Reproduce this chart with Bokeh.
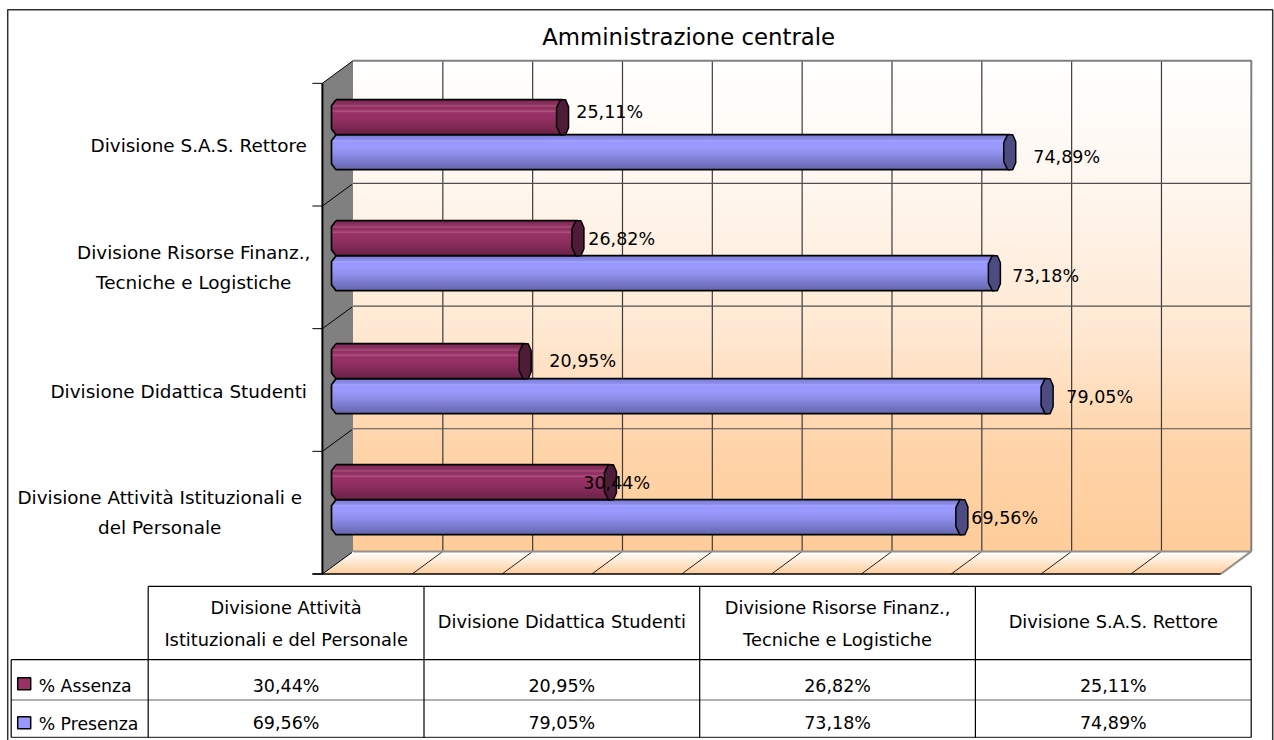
from bokeh.plotting import figure
from bokeh.models import Range1d
from bokeh.core.properties import value
from bokeh.embed import file_html
from bokeh.resources import INLINE

title = "Amministrazione centrale"
categories = ["Divisione Attività Istituzionali e del Personale", "Divisione Didattica Studenti",
              "Divisione Risorse Finanz., Tecniche e Logistiche", "Divisione S.A.S. Rettore"]
axis_labels = [["Divisione Attività Istituzionali e", "del Personale"], ["Divisione Didattica Studenti"],
               ["Divisione Risorse Finanz.,", "Tecniche e Logistiche"], ["Divisione S.A.S. Rettore"]]
header_labels = [["Divisione Attività", "Istituzionali e del Personale"], ["Divisione Didattica Studenti"],
                 ["Divisione Risorse Finanz.,", "Tecniche e Logistiche"], ["Divisione S.A.S. Rettore"]]
assenza = [30.44, 20.95, 26.82, 25.11]
presenza = [69.56, 79.05, 73.18, 74.89]
series_names = ["% Assenza", "% Presenza"]
x_ticks = list(range(0, 101, 10))

FONT = value("DejaVu Sans")
W, H = 1274, 740
X0, PX = 353.3, 8.983      # picture px of 0 %, px per 1 %
Y0, PY = 551.7, 122.67     # picture px of category 0, px per category
DX, DY = -30.6, 22.6       # depth of the 3-D box
SHIFT = 0.8


def fx(px):
    return (px - X0) / PX


def fy(py):
    return (Y0 - py) / PY


p = figure(width=W, height=H, output_backend="svg", toolbar_location=None, min_border=0,
           x_range=Range1d(fx(SHIFT), fx(W + SHIFT)), y_range=Range1d(fy(H + SHIFT), fy(SHIFT)),
           x_axis_type="linear", y_axis_type="linear")
p.axis.visible = False
p.grid.visible = False
p.outline_line_color = None
p.background_fill_color = "white"
p.border_fill_color = "white"


def mix(c1, c2, t):
    return "#%02x%02x%02x" % tuple(round(a + (b - a) * t) for a, b in zip(c1, c2))


def stops(s, t):
    for (t0, c0), (t1, c1) in zip(s, s[1:]):
        if t <= t1:
            return mix(c0, c1, (t - t0) / (t1 - t0) if t1 > t0 else 0)
    return mix(s[-1][1], s[-1][1], 0)


def line(xs, ys, color="#000000", width=1.0):
    p.line([fx(a) for a in xs], [fy(b) for b in ys], line_color=color, line_width=width)


WHITE, PEACH = (255, 255, 255), (255, 204, 153)
wall_stops = [(0, WHITE), (0.26, (255, 246, 238)), (0.55, (255, 232, 210)), (0.78, (255, 212, 170)), (1, PEACH)]

# back wall gradient (each strip overlaps the next so no seams show)
rows = list(range(61, 552, 2))
p.quad(left=fx(X0), right=fx(X0 + 898.3), top=[fy(r) for r in rows], bottom=[fy(min(r + 3, 551.7)) for r in rows],
       fill_color=[stops(wall_stops, (r - 61) / 491) for r in rows], fill_alpha=1.0, line_color=None)

# floor gradient
rows = list(range(552, 574))
p.quad(left=[fx(X0 + DX * (r - 551.7) / DY) for r in rows], right=[fx(X0 + 898.3 + DX * (r - 551.7) / DY) for r in rows],
       top=[fy(r) for r in rows], bottom=[fy(min(r + 2, 574)) for r in rows],
       fill_color=[mix(WHITE, PEACH, (r - 552) / 22) for r in rows], fill_alpha=1.0, line_color=None)

# side wall
p.patch([fx(X0 + DX), fx(X0), fx(X0), fx(X0 + DX)], [fy(Y0 - 4 * PY + DY), fy(Y0 - 4 * PY), fy(Y0), fy(Y0 + DY)],
        fill_color="#808080", fill_alpha=1.0, line_color=None)

# grid lines
for t in x_ticks[1:-1]:
    px = X0 + t * PX
    line([px, px], [61, Y0], "#3c3c3c", 1.2)
    line([px, px + DX], [Y0, Y0 + DY], "#202020", 1)
for k in range(1, 4):
    py = Y0 - k * PY
    line([X0, X0 + 898.3], [py, py], "#505050", 1.2)
line([X0, X0 + 898.3, X0 + 898.3], [61, 61, Y0], "#808080", 2)
line([X0, X0 + 898.3, X0 + 898.3 + DX], [Y0, Y0, Y0 + DY], "#909090", 2)
# side wall lines and ticks
for k in range(0, 5):
    py = Y0 - k * PY
    line([X0 + DX - 10, X0 + DX], [py + DY, py + DY], "#000000", 1)
    if k < 4:
        line([X0 + DX, X0 - 1], [py + DY, py + 1], "#000000", 1)
line([X0 + DX, X0], [Y0 - 4 * PY + DY, Y0 - 4 * PY], "#000000", 1)
line([X0 + DX, X0 + DX], [Y0 - 4 * PY + DY, Y0 + DY], "#000000", 2)
line([X0 + DX - 10, X0 + 898.3 + DX], [Y0 + DY, Y0 + DY], "#000000", 1.5)

# bars
maroon_stops = [(0, (126, 42, 85)), (0.12, (140, 48, 96)), (0.16, (170, 84, 128)), (0.2, (146, 50, 98)),
                (0.27, (150, 50, 100)), (0.31, (176, 90, 134)), (0.35, (153, 51, 102)), (0.55, (145, 48, 97)),
                (1, (104, 34, 70))]
blue_stops = [(0, (124, 124, 214)), (0.12, (140, 140, 236)), (0.16, (170, 170, 255)), (0.2, (150, 150, 255)),
              (0.3, (156, 156, 255)), (0.55, (140, 140, 232)), (1, (100, 100, 172))]
BAR_X = -16.0   # bar start relative to the wall, px


def bar(val, yc, up, grad, cap):
    x0 = X0 + BAR_X
    xe = x0 + val * PX
    top, bot = (yc - 35, yc) if up else (yc, yc + 35)
    rows = list(range(int(top), int(bot)))

    def lft(r):
        d = min(r + .5 - top, bot - r - .5)
        return x0 - 5.5 * min(1, max(0.0, (d - 0.5)) / 5)
    p.quad(left=[fx(lft(r)) for r in rows], right=fx(xe), top=[fy(r) for r in rows],
           bottom=[fy(min(r + 2, bot)) for r in rows],
           fill_color=[stops(grad, (r - top) / 35) for r in rows], fill_alpha=1.0, line_color=None)
    ox = [x0 - 1, xe, xe, x0 - 1, x0 - 5.5, x0 - 5.5, x0 - 1]
    oy = [top, top, bot, bot, bot - 6, top + 6, top]
    line(ox, oy, "#000000", 1.7)
    cx = [xe - 2, xe + 3, xe + 6, xe + 6, xe + 3, xe - 2, xe - 6, xe - 6, xe - 2]
    cy = [top, top, top + 7, bot - 7, bot, bot, bot - 8, top + 8, top]
    p.patch([fx(a) for a in cx], [fy(b) for b in cy], fill_color=cap, fill_alpha=1.0, line_color="#000000", line_width=1.5)


bar_y = [500, 379, 256, 135]
for a, b, yc in zip(assenza, presenza, bar_y):
    bar(b, yc, False, blue_stops, "#4c4c82")
    bar(a, yc, True, maroon_stops, "#4f1c38")


def txt(xs, ys, texts, size, align="center", color="#000000"):
    p.text([fx(a) for a in xs], [fy(b) for b in ys], text=texts, text_font=FONT, text_font_size=f"{size}px",
           text_align=align, text_baseline="middle", text_color=color)


def fmt(v):
    return f"{v:.2f}%".replace(".", ",")


# value labels: picture px of each label's centre
label_x_a = [617, 583, 622, 610]
label_x_p = [1005, 1100, 1046, 1067]
txt(label_x_a, [483, 361, 239, 112], [fmt(v) for v in assenza], 17.5)
txt(label_x_p, [518, 397, 276, 157], [fmt(v) for v in presenza], 17.5)

# category axis labels
ax_x = [160, 179, 194, 199]
ax_y = [[498, 528], [392], [253, 283], [146]]
for cx, ys, lines in zip(ax_x, ax_y, axis_labels):
    txt([cx] * len(lines), ys, lines, 18.4)

txt([689], [37], [title], 22.8)

# outer frame
line([8, 8, 1273, 1273], [745, 10, 10, 745], "#303030", 1.5)

# data table
TX = [148.5, 424.3, 700, 975.7, 1251.5]
line([TX[0], TX[-1]], [586.7, 586.7], "#000000", 1.2)
line([11.5, TX[-1]], [660, 660], "#000000", 1.2)
line([11.5, TX[-1]], [700.3, 700.3], "#606060", 1.2)
line([11.5, TX[-1]], [737.7, 737.7], "#404040", 1.2)
line([11.5, 11.5], [660, 737.7], "#000000", 1.2)
for tx in TX:
    line([tx, tx], [586.7, 737.7], "#000000", 1.2)
col_c = [(a + b) / 2 for a, b in zip(TX, TX[1:])]
head_y = [[608, 640], [622], [608, 640], [622]]
for cx, ys, lines in zip(col_c, head_y, header_labels):
    txt([cx] * len(lines), ys, lines, 17.8)
txt(col_c, [686] * 4, [fmt(v) for v in assenza], 17.5)
txt(col_c, [723] * 4, [fmt(v) for v in presenza], 17.5)
txt([39], [686], [series_names[0]], 17.3, "left")
txt([39], [724], [series_names[1]], 17.3, "left")
for yy, col in zip([678, 717], ["#993366", "#9999ff"]):
    p.quad(left=fx(18), right=fx(31), top=fy(yy), bottom=fy(yy + 12), fill_color=col, fill_alpha=1.0, line_color="#000000", line_width=1.5)

open("out.html", "w").write(file_html(p, INLINE))
